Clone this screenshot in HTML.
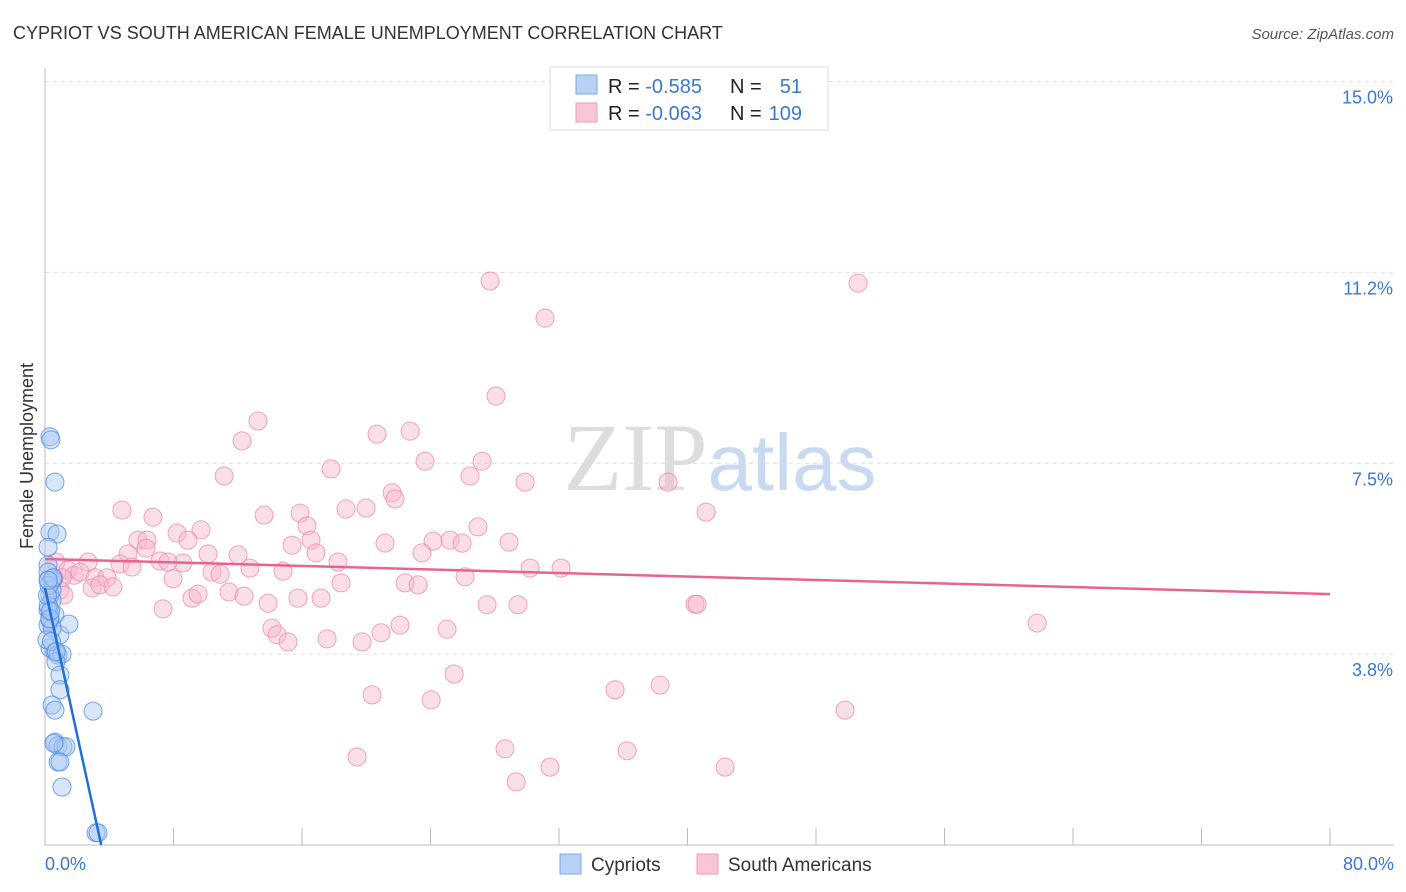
<!DOCTYPE html>
<html><head><meta charset="utf-8"><style>
body{margin:0;background:#fff;font-family:"Liberation Sans",sans-serif;}
svg{display:block}
</style></head><body>
<svg id="chart" width="1406" height="892" xmlns="http://www.w3.org/2000/svg" font-family="Liberation Sans, sans-serif">
<text x="13" y="39" font-size="18" fill="#333">CYPRIOT VS SOUTH AMERICAN FEMALE UNEMPLOYMENT CORRELATION CHART</text>
<text x="1394" y="39" font-size="15" fill="#555" font-style="italic" text-anchor="end">Source: ZipAtlas.com</text>
<text x="720" y="490" font-size="96" text-anchor="middle"><tspan fill="#ddd" font-family="Liberation Serif, serif">ZIP</tspan><tspan fill="#c9daf0" font-size="80">atlas</tspan></text>
<g id="grid"></g>
<g id="axes"></g>
<g id="trend"></g>
<g id="pts"></g>
<text transform="translate(33,456) rotate(-90)" font-size="18" fill="#333" text-anchor="middle">Female Unemployment</text>
<g>
<rect x="550" y="67" width="278" height="63" fill="#fff" stroke="#ddd"/>
<rect x="576" y="75" width="21" height="19" fill="#b7d2f5" stroke="#7aa9e8"/>
<rect x="576" y="103" width="21" height="19" fill="#f9c6d6" stroke="#f19ab5"/>
<text x="608" y="93" font-size="20" fill="#222">R = <tspan fill="#3b78d0">-0.585</tspan></text>
<text x="730" y="93" font-size="20" fill="#222">N = </text><text x="802" y="93" font-size="20" fill="#3b78d0" text-anchor="end">51</text>
<text x="608" y="120" font-size="20" fill="#222">R = <tspan fill="#3b78d0">-0.063</tspan></text>
<text x="730" y="120" font-size="20" fill="#222">N = </text><text x="802" y="120" font-size="20" fill="#3b78d0" text-anchor="end">109</text>
</g>
<g>
<rect x="560" y="854" width="21" height="20" fill="#b7d2f5" stroke="#7aa9e8"/>
<text x="591" y="871" font-size="19" fill="#333">Cypriots</text>
<rect x="697" y="854" width="21" height="20" fill="#f9c6d6" stroke="#f19ab5"/>
<text x="728" y="871" font-size="19" fill="#333">South Americans</text>
</g>
</svg>
<script>
const yTicks=[3.75,7.5,11.25,15];
const yTickLabels=["3.8%","7.5%","11.2%","15.0%"];
const xTickCount=10;
const blueX=[0.31,0.37,0.62,0.31,0.75,0.19,0.19,0.5,0.31,0.44,0.31,0.62,0.19,0.93,1.49,0.31,0.62,0.81,1.06,0.68,0.93,0.93,0.44,0.62,2.99,0.62,0.81,1.12,1.31,0.81,0.93,1.06,3.18,3.3,0.19,0.19,0.31,0.44,0.12,0.44,0.19,0.2,0.25,0.3,0.15,0.5,0.4,0.7,0.35,0.2,0.55];
const blueY=[8.02,7.96,7.13,6.15,6.11,5.85,5.21,5.21,4.91,4.81,4.58,4.52,4.32,4.13,4.34,3.87,3.79,3.73,3.75,3.6,3.34,3.05,2.75,2.65,2.63,2.02,1.95,1.93,1.93,1.63,1.63,1.14,0.24,0.24,5.5,4.62,4.42,4.26,4.03,5.01,5.36,4.7,5.1,4.45,4.9,5.25,4.0,3.8,4.6,5.2,2.0];
const pinkX=[27.71,50.62,31.13,28.08,13.26,22.73,20.67,12.27,23.66,17.81,27.21,11.15,26.46,29.89,38.79,21.61,21.79,18.74,19.99,4.79,6.72,13.64,15.88,41.16,16.31,8.22,9.71,26.96,5.79,6.35,8.9,16.56,24.16,25.22,25.97,28.89,5.17,6.29,10.15,12.02,15.38,21.17,16.87,23.47,7.16,8.59,4.67,2.68,0.68,1.43,1.81,2.18,3.11,3.86,5.42,7.66,10.4,10.9,12.76,14.82,18.24,30.2,32.13,26.15,7.97,18.43,22.42,23.23,1.06,0.56,2.93,3.42,4.23,9.15,9.53,11.46,12.39,15.75,17.19,7.35,13.89,27.52,29.45,40.47,40.6,61.77,14.13,14.45,15.13,17.56,19.74,20.92,22.1,25.03,25.47,20.36,24.04,35.49,38.29,49.81,19.43,28.64,36.24,31.44,42.34,29.33,0.93,1.18,0.4];
const pinkY=[11.08,11.04,10.35,8.82,8.33,8.13,8.07,7.94,7.54,7.39,7.54,7.25,7.25,7.13,7.13,6.92,6.8,6.6,6.62,6.58,6.44,6.48,6.52,6.54,6.27,6.13,6.19,6.25,5.99,5.99,5.99,5.99,5.97,5.99,5.93,5.95,5.72,5.83,5.72,5.7,5.89,5.93,5.74,5.74,5.58,5.54,5.52,5.56,5.56,5.4,5.3,5.36,5.25,5.25,5.46,5.56,5.36,5.32,5.44,5.38,5.56,5.44,5.44,5.27,5.23,5.15,5.15,5.11,5.25,5.25,5.05,5.11,5.07,4.85,4.93,4.97,4.89,4.85,4.85,4.64,4.75,4.72,4.72,4.73,4.73,4.36,4.26,4.13,3.99,4.05,3.99,4.17,4.32,4.24,3.36,2.95,2.85,3.05,3.14,2.65,1.73,1.89,1.85,1.53,1.53,1.24,5.01,4.91,5.2];
const blueTrend=[[0,5.05],[3.5,0]];
const pinkTrend=[[0,5.62],[80,4.93]];
const X0=45,X1=1330,Y0=845,PX=(X1-X0)/80,PY=50.9;
const sx=v=>X0+v*PX, sy=v=>Y0-v*PY;
const NS="http://www.w3.org/2000/svg";
function mk(t,a,p){const e=document.createElementNS(NS,t);for(const k in a)e.setAttribute(k,a[k]);p.appendChild(e);return e;}
const grid=document.getElementById('grid'),axes=document.getElementById('axes'),trend=document.getElementById('trend'),pts=document.getElementById('pts');
yTicks.forEach((v,i)=>{
 const l=mk('line',{x1:X0,x2:1394,y1:sy(v),y2:sy(v),stroke:'#ddd','stroke-dasharray':'4,4'},grid);
 
 
 const t=mk('text',{x:1393,y:sy(v)+22,'font-size':18,fill:'#3b78d0','text-anchor':'end'},grid);
 t.textContent=yTickLabels[i];
 
 
});
const ax=mk('path',{d:`M${X0},68V${Y0}H${X1+64}`,stroke:'#bbb',fill:'none'},axes);


for(let i=1;i<=xTickCount;i++){
 const l=mk('line',{x1:sx(i*8),x2:sx(i*8),y1:Y0-17,y2:Y0,stroke:'#bbb'},axes);
 
 
}
[["0.0%",X0,'start'],["80.0%",1394,'end']].forEach(([s,x,a])=>{
 const t=mk('text',{x:x,y:870,'font-size':18,fill:'#3b78d0','text-anchor':a},axes);
 t.textContent=s;
 
 
});
function dots(xs,ys,fill,stroke,name){xs.forEach((x,i)=>{
 const c=mk('circle',{cx:sx(x),cy:sy(ys[i]),r:9,fill:fill,'fill-opacity':0.45,stroke:stroke,'stroke-opacity':0.75,'stroke-width':1},pts);
 
 
});}
dots(pinkX,pinkY,'#f7b7cb','#ec86a8','south-american-point');
dots(blueX,blueY,'#a9c8f2','#4a8ae0','cypriot-point');
const bl=mk('line',{x1:sx(blueTrend[0][0]),y1:sy(blueTrend[0][1]),x2:sx(blueTrend[1][0]),y2:sy(blueTrend[1][1]),stroke:'#1f6fd8','stroke-width':2.5},trend);


const pl=mk('line',{x1:sx(pinkTrend[0][0]),y1:sy(pinkTrend[0][1]),x2:sx(pinkTrend[1][0]),y2:sy(pinkTrend[1][1]),stroke:'#e8648f','stroke-width':2.5},trend);


document.getElementById('chart').appendChild(trend);
</script>
</body></html>
